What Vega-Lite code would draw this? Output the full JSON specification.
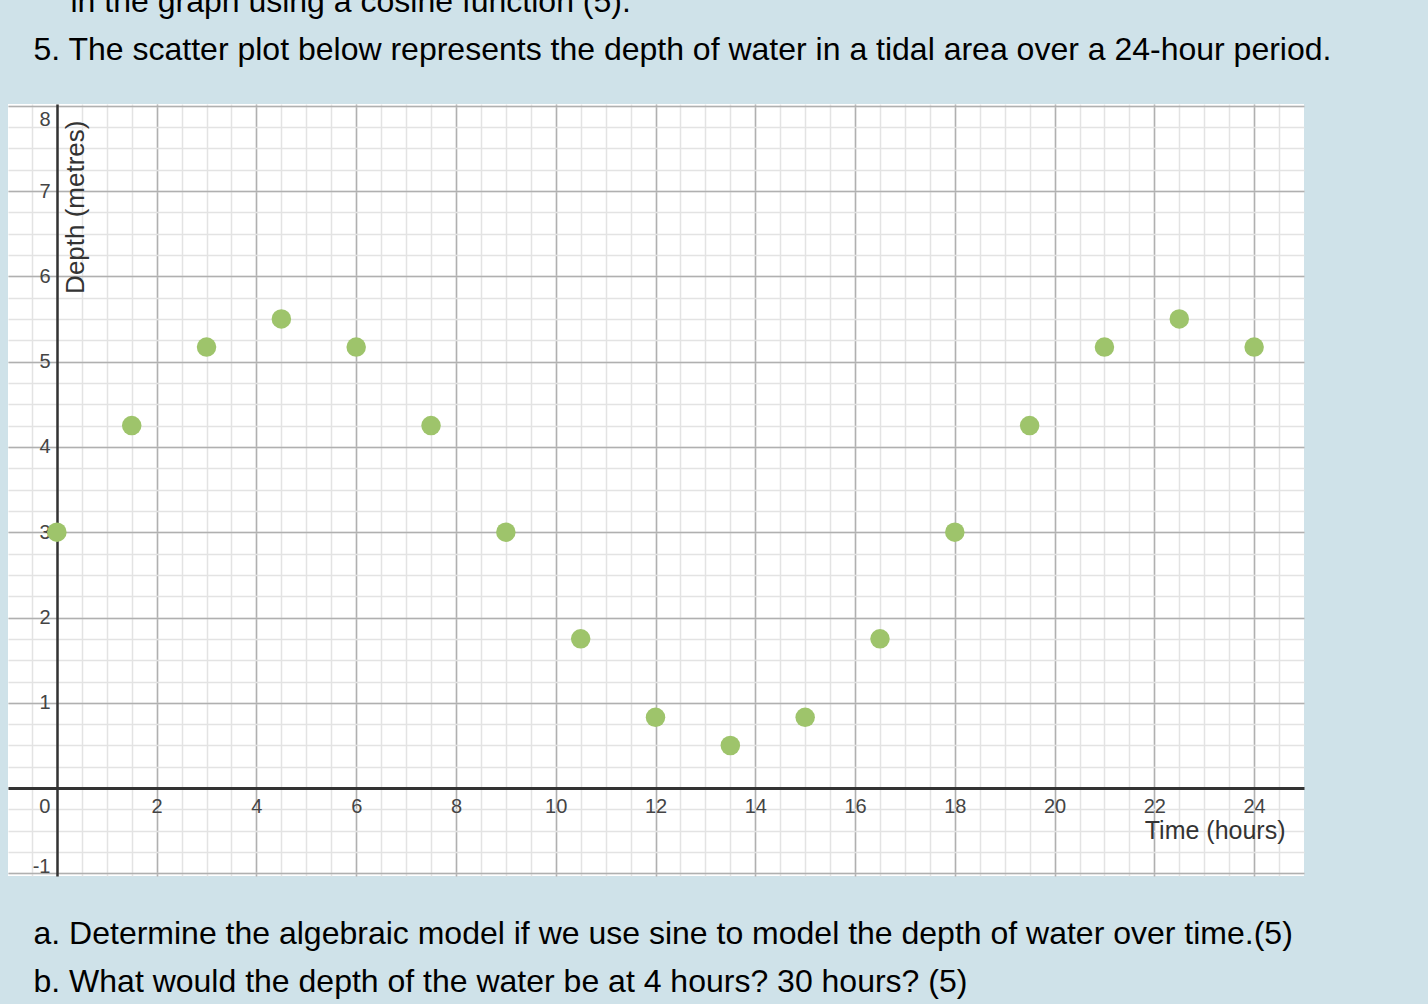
{
  "$schema": "https://vega.github.io/schema/vega-lite/v6.json",
  "autosize": {"type": "none"},
  "width": 1296,
  "height": 772,
  "padding": {"left": 8, "top": 104, "right": 124, "bottom": 128},
  "background": "#cfe2e9",
  "config": {
    "view": {"fill": "white", "stroke": null},
    "font": "Liberation Sans"
  },
  "data": {
    "values": [
      {"time": 0, "depth": 3},
      {"time": 1.5, "depth": 4.25},
      {"time": 3, "depth": 5.17},
      {"time": 4.5, "depth": 5.5},
      {"time": 6, "depth": 5.17},
      {"time": 7.5, "depth": 4.25},
      {"time": 9, "depth": 3},
      {"time": 10.5, "depth": 1.75},
      {"time": 12, "depth": 0.83},
      {"time": 13.5, "depth": 0.5},
      {"time": 15, "depth": 0.83},
      {"time": 16.5, "depth": 1.75},
      {"time": 18, "depth": 3},
      {"time": 19.5, "depth": 4.25},
      {"time": 21, "depth": 5.17},
      {"time": 22.5, "depth": 5.5},
      {"time": 24, "depth": 5.17}
    ]
  },
  "resolve": {"axis": {"x": "independent", "y": "independent"}},
  "layer": [
    {
      "mark": {"type": "point", "opacity": 0},
      "encoding": {
        "x": {
          "field": "time", "type": "quantitative",
          "scale": {"domain": [-0.98, 25.0], "nice": false, "zero": false},
          "axis": {
            "orient": "bottom", "offset": 0,
            "values": [-0.5, 0, 0.5, 1, 1.5, 2, 2.5, 3, 3.5, 4, 4.5, 5, 5.5, 6, 6.5, 7, 7.5, 8, 8.5, 9, 9.5, 10, 10.5, 11, 11.5, 12, 12.5, 13, 13.5, 14, 14.5, 15, 15.5, 16, 16.5, 17, 17.5, 18, 18.5, 19, 19.5, 20, 20.5, 21, 21.5, 22, 22.5, 23, 23.5, 24, 24.5],
            "grid": true, "gridColor": "#e3e3e3", "gridWidth": 1.5,
            "labels": false, "ticks": false, "tickSize": 0, "domain": false,
            "title": ["a. Determine the algebraic model if we use sine to model the depth of water over time.(5)", "b. What would the depth of the water be at 4 hours? 30 hours? (5)"],
            "titleX": 25, "titleY": 67, "titleAlign": "left", "titleAnchor": "start", "titleBaseline": "alphabetic",
            "titleLineHeight": 48, "titleFontSize": 32, "titleFontWeight": "normal", "titleColor": "#000000", "titleFont": "Liberation Sans"
          }
        },
        "y": {
          "field": "depth", "type": "quantitative",
          "scale": {"domain": [-1.03, 8.02], "nice": false, "zero": false},
          "axis": {
            "orient": "left", "offset": 0,
            "values": [-1, -0.75, -0.5, -0.25, 0, 0.25, 0.5, 0.75, 1, 1.25, 1.5, 1.75, 2, 2.25, 2.5, 2.75, 3, 3.25, 3.5, 3.75, 4, 4.25, 4.5, 4.75, 5, 5.25, 5.5, 5.75, 6, 6.25, 6.5, 6.75, 7, 7.25, 7.5, 7.75, 8],
            "grid": true, "gridColor": "#e3e3e3", "gridWidth": 1.5,
            "labels": false, "ticks": false, "tickSize": 0, "domain": false, "title": null
          }
        }
      }
    },
    {
      "mark": {"type": "point", "opacity": 0},
      "encoding": {
        "x": {
          "field": "time", "type": "quantitative",
          "axis": {
            "orient": "top", "offset": 0,
            "values": [2, 4, 6, 8, 10, 12, 14, 16, 18, 20, 22, 24],
            "grid": true, "gridColor": "#b0b0b0", "gridWidth": 1.5,
            "labels": false, "ticks": false, "tickSize": 0, "domain": false,
            "title": "5. The scatter plot below represents the depth of water in a tidal area over a 24-hour period.",
            "titleX": 25, "titleY": -44.5, "titleAlign": "left", "titleAnchor": "start", "titleBaseline": "alphabetic", "titleAngle": 0,
            "titleFontSize": 32, "titleFontWeight": "normal", "titleColor": "#000000", "titleFont": "Liberation Sans", "titleLimit": 1400
          }
        },
        "y": {
          "field": "depth", "type": "quantitative",
          "axis": {
            "orient": "left", "offset": 0,
            "values": [-1, 1, 2, 3, 4, 5, 6, 7, 8],
            "grid": true, "gridColor": "#b0b0b0", "gridWidth": 1.5,
            "labels": false, "ticks": false, "tickSize": 0, "domain": false,
            "title": "in the graph using a cosine function (5).",
            "titleX": 62, "titleY": -92.5, "titleAlign": "left", "titleAnchor": "start", "titleBaseline": "alphabetic", "titleAngle": 0,
            "titleFontSize": 32, "titleFontWeight": "normal", "titleColor": "#000000", "titleFont": "Liberation Sans", "titleLimit": 1400
          }
        }
      }
    },
    {
      "mark": {"type": "circle", "size": 380, "opacity": 1, "color": "#9ec46b"},
      "encoding": {
        "x": {
          "field": "time", "type": "quantitative",
          "axis": {
            "orient": "bottom", "offset": -88,
            "values": [0, 2, 4, 6, 8, 10, 12, 14, 16, 18, 20, 22, 24],
            "grid": false, "ticks": false, "tickSize": 0,
            "domain": true, "domainColor": "#333333", "domainWidth": 3,
            "labelFontSize": 20, "labelColor": "#444444", "labelFont": "Liberation Sans",
            "labelPadding": 8, "labelBaseline": "top", "labelFlush": false, "labelOverlap": false,
            "labelAlign": {"condition": {"test": "datum.value == 0", "value": "right"}, "value": "center"},
            "labelOffset": {"condition": {"test": "datum.value == 0", "value": -7}, "value": 0},
            "title": "Time (hours)",
            "titleX": 1277, "titleY": 50, "titleAlign": "right", "titleBaseline": "alphabetic", "titleAngle": 0,
            "titleFontSize": 25, "titleFontWeight": "normal", "titleColor": "#333333", "titleFont": "Liberation Sans"
          }
        },
        "y": {
          "field": "depth", "type": "quantitative",
          "axis": {
            "orient": "left", "offset": -49,
            "values": [-1, 1, 2, 3, 4, 5, 6, 7, 8],
            "grid": false, "ticks": false, "tickSize": 0,
            "domain": true, "domainColor": "#333333", "domainWidth": 2.5,
            "labelFontSize": 20, "labelColor": "#444444", "labelFont": "Liberation Sans",
            "labelPadding": 7, "labelBaseline": "middle", "labelFlush": false, "labelOverlap": false,
            "labelExpr": "datum.value == -1 ? '-1' : datum.label",
            "labelOffset": {"expr": "datum.value == 8 ? 14 : (datum.value == -1 ? -7 : 0)"},
            "title": "Depth (metres)",
            "titleX": 26, "titleY": 16, "titleAlign": "right", "titleBaseline": "alphabetic", "titleAngle": 270,
            "titleFontSize": 26, "titleFontWeight": "normal", "titleColor": "#333333", "titleFont": "Liberation Sans"
          }
        }
      }
    }
  ]
}
